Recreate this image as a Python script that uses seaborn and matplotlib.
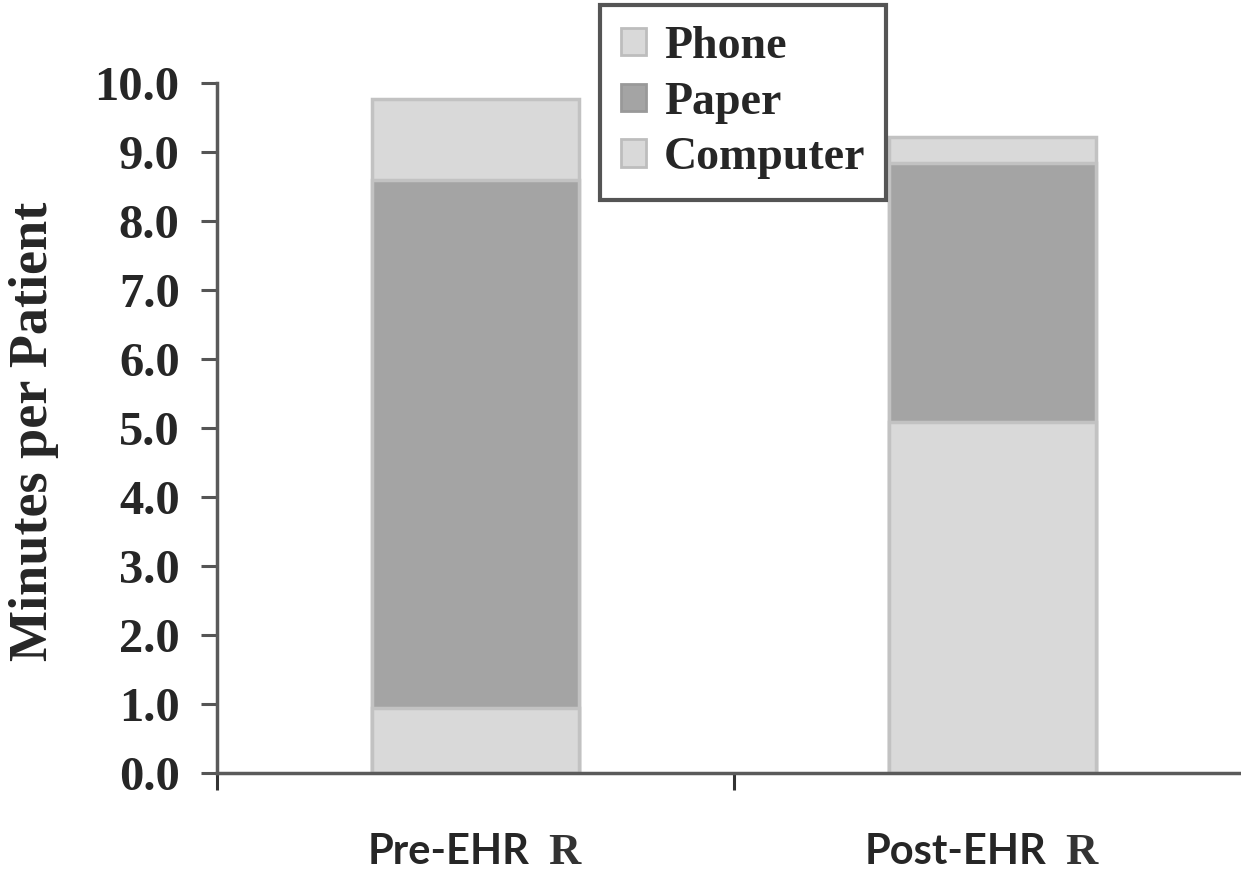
import numpy as np
import pandas as pd
import matplotlib
matplotlib.use('Agg')
import matplotlib.pyplot as plt
import matplotlib.transforms as mtransforms
from matplotlib.patches import Patch
import seaborn as sns

# Values (minutes per patient)
periods = ['Pre-EHR', 'Post-EHR']
computer = [0.94, 5.09]
paper = [7.65, 3.75]
phone = [1.18, 0.38]
y_ticks = [0, 1, 2, 3, 4, 5, 6, 7, 8, 9, 10]

sns.set_theme(style='white')
plt.rcParams['font.family'] = ['Liberation Serif', 'DejaVu Serif']

df = pd.DataFrame({'period': periods, 'computer': computer,
                   'paper': paper, 'phone': phone})
# stacked bars drawn as overlapping cumulative totals
df['paper_top'] = df['computer'] + df['paper']
df['phone_top'] = df['paper_top'] + df['phone']

light = '#d9d9d9'
dark = '#a4a4a4'
edge = '#c2c2c2'

fig = plt.figure(figsize=(12.41, 8.71), dpi=100)
ax = fig.add_axes([0.1745, 0.1125, 0.8255, 0.7922])

for col, color in [('phone_top', light), ('paper_top', dark), ('computer', light)]:
    sns.barplot(data=df, x='period', y=col, color=color, width=0.4,
                saturation=1, edgecolor=edge, linewidth=2.5, ax=ax)

ax.set_xlabel('')
ax.set_ylabel('')
ax.set_ylim(0, 10)
ax.set_xticks([-0.5, 0.5, 1.5])
ax.set_xticklabels([])
ax.set_xlim(-0.5, 1.48)
ax.set_yticks(y_ticks)
ax.set_yticklabels(['%.1f' % v for v in y_ticks], fontsize=35,
                   fontweight='bold')
ax.tick_params(axis='y', direction='out', length=11.5, width=2.2,
               color='#555555', pad=15, left=True)
ax.tick_params(axis='x', direction='out', length=12, width=2.2,
               color='#333333', bottom=True)

for side in ['top', 'right']:
    ax.spines[side].set_visible(False)
for side in ['left', 'bottom']:
    ax.spines[side].set_color('#5a5a5a')
    ax.spines[side].set_linewidth(2.5)

fig.text(0.0274, 0.505, 'Minutes per Patient', rotation=90, ha='center',
         va='center', fontsize=39, fontweight='bold')

# category labels, with the stray serif "R" after each
trans = mtransforms.blended_transform_factory(ax.transData, fig.transFigure)
for i, name in enumerate(periods):
    ax.text(i + 0.104, 0.008, name, transform=trans, ha='right',
            va='baseline', fontsize=30, fontweight='bold', family='Lato')
    ax.text(i + 0.140, 0.008, 'R', transform=trans, ha='left',
            va='baseline', fontsize=32, fontweight='bold', color='#333333')

handles = [Patch(facecolor=light, edgecolor='#bdbdbd', linewidth=2),
           Patch(facecolor=dark, edgecolor='#999999', linewidth=2),
           Patch(facecolor=light, edgecolor='#bdbdbd', linewidth=2)]
leg = fig.legend(handles, ['Phone', 'Paper', 'Computer'], loc='upper left',
                 bbox_to_anchor=(0.4835, 0.994), borderaxespad=0,
                 prop={'family': 'Liberation Serif', 'weight': 'bold',
                       'size': 33},
                 handlelength=0.55, handleheight=0.55, handletextpad=0.4,
                 borderpad=0.45, labelspacing=0.3, fancybox=False,
                 framealpha=1)
leg.get_frame().set_edgecolor('#555555')
leg.get_frame().set_linewidth(3)

fig.savefig('out.png', dpi=100)
